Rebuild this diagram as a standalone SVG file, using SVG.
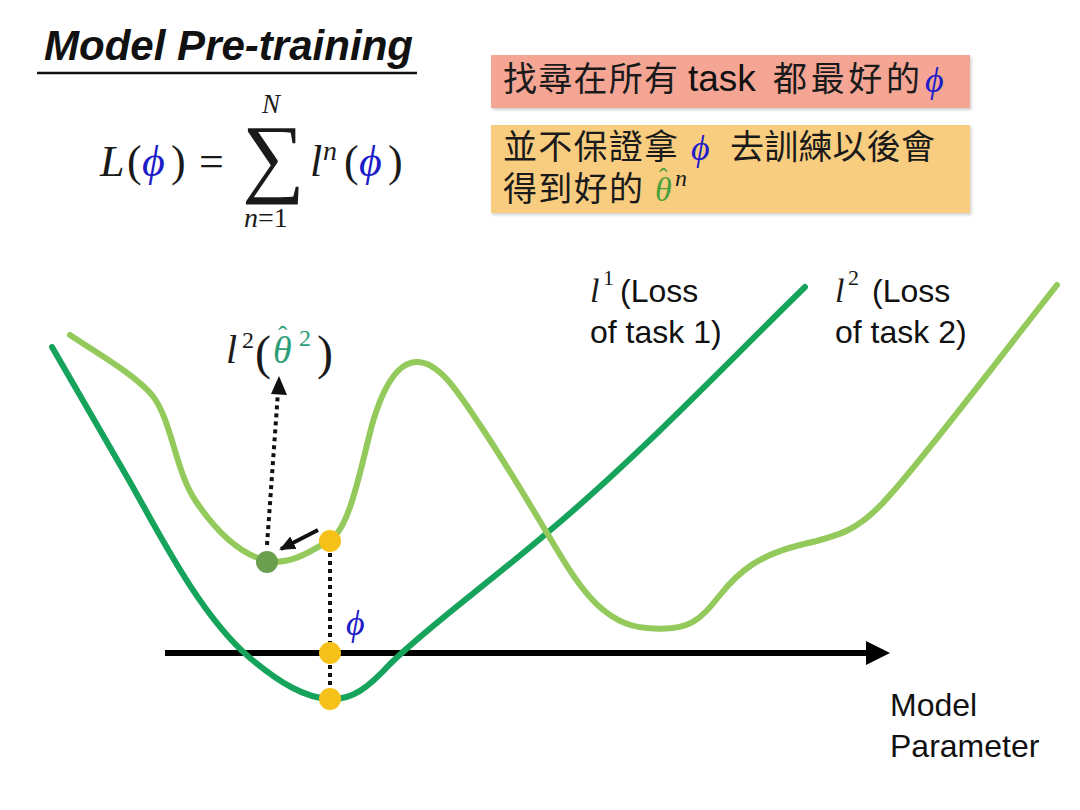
<svg xmlns="http://www.w3.org/2000/svg" width="1080" height="810" viewBox="0 0 1080 810">
<style>
.serif{font-family:"Liberation Serif","DejaVu Serif",serif;fill:#1a1a1a}
.it{font-style:italic}
.sans{font-family:"Liberation Sans",Arial,sans-serif;fill:#111}
.cjk{font-family:"Noto Sans CJK TC","Noto Sans CJK SC",sans-serif;fill:#1a1a1a;font-size:34px}
.blue{fill:#1c1cc8}
.teal{fill:#2e9e78}
.gr{fill:#4aa03a}
.curve{fill:none;stroke-width:6;stroke-linecap:round;stroke-linejoin:round}
.dot{stroke:#111;stroke-width:4;stroke-dasharray:4 4;fill:none}
</style>
<defs>
<marker id="ah" markerUnits="userSpaceOnUse" markerWidth="16" markerHeight="16" refX="14" refY="8" orient="auto">
<path d="M0,1 L16,8 L0,15 Z" fill="#111"/>
</marker>
<filter id="sh" x="-5%" y="-10%" width="110%" height="130%">
<feDropShadow dx="1.5" dy="2" stdDeviation="1.5" flood-color="#000" flood-opacity="0.18"/>
</filter>
</defs>
<rect width="1080" height="810" fill="#fff"/>

<g id="title">
<text x="44" y="60" class="sans" font-size="42" font-weight="bold" font-style="italic" textLength="369" lengthAdjust="spacingAndGlyphs">Model Pre-training</text>
<line x1="37" y1="73" x2="417" y2="73" stroke="#111" stroke-width="2.5"/>
</g>

<g id="formula">
<text x="100" y="176" class="serif it" font-size="44">L</text>
<text x="127" y="176" class="serif" font-size="44">(</text>
<text x="142" y="176" class="serif it blue" font-size="44">ϕ</text>
<text x="171" y="176" class="serif" font-size="44">)</text>
<text x="199" y="176" class="serif" font-size="44">=</text>
<text x="242" y="186" class="serif" font-size="88">∑</text>
<text x="262" y="113" class="serif it" font-size="27">N</text>
<text x="244" y="227" class="serif" font-size="28"><tspan font-style="italic">n</tspan>=1</text>
<text x="310" y="176" class="serif it" font-size="44">l</text>
<text x="323" y="160" class="serif it" font-size="28">n</text>
<text x="344" y="176" class="serif" font-size="44">(</text>
<text x="359" y="176" class="serif it blue" font-size="44">ϕ</text>
<text x="388" y="176" class="serif" font-size="44">)</text>
</g>

<g id="box1">
<rect x="491" y="55" width="479" height="53" fill="#f4a594" filter="url(#sh)"/>
<text y="91" class="cjk"><tspan x="503" textLength="175" lengthAdjust="spacing">找尋在所有</tspan></text>
<text x="688" y="91" class="sans" font-size="37">task</text>
<text y="91" class="cjk"><tspan x="773" textLength="147" lengthAdjust="spacing">都最好的</tspan></text>
<text x="925" y="92" class="serif it blue" font-size="36">ϕ</text>
</g>

<g id="box2">
<rect x="491" y="125" width="479" height="88" fill="#f9cd80" filter="url(#sh)"/>
<text y="159" class="cjk"><tspan x="503" textLength="175" lengthAdjust="spacing">並不保證拿</tspan></text>
<text x="691" y="160" class="serif it blue" font-size="36">ϕ</text>
<text y="159" class="cjk"><tspan x="730" textLength="205" lengthAdjust="spacing">去訓練以後會</tspan></text>
<text y="201" class="cjk"><tspan x="503" textLength="140" lengthAdjust="spacing">得到好的</tspan></text>
<text x="655" y="201" class="serif it gr" font-size="34">θ</text>
<text x="659" y="186" class="serif gr" font-size="26">ˆ</text>
<text x="675" y="186" class="serif it" font-size="24">n</text>
</g>

<g id="connectors">
<path id="axis" d="M165,653 L870,653" stroke="#000" stroke-width="6"/>
<polygon points="866,641 890,653 866,665" fill="#000"/>
<path id="l1" class="curve" stroke="#16a35c" d="M52,347 L130,482 C160,535 200,615 250,658 C280,683 305,698 330,699 C352,700 368,688 390,664 C430,625 480,590 547,533 C640,455 720,370 805,287"/>
<path id="l2" class="curve" stroke="#94c95b" d="M70,335 C100,355 135,375 152,395 C172,420 175,470 195,500 C215,530 240,555 268,561 C290,565 310,552 330,540 C350,528 360,470 372,425 C385,380 400,362 417,362 C440,362 460,395 480,425 C510,470 530,505 547,533 C575,580 600,625 647,628 C690,632 700,620 720,595 C740,570 760,555 800,545 C840,536 860,530 890,495 C930,450 990,370 1057,285"/>
<line class="dot" x1="330" y1="545" x2="330" y2="698"/>
<line class="dot" x1="267" y1="545" x2="278" y2="392"/>
<polygon points="271,394 279,376 287,395" fill="#111"/>
<line x1="318" y1="530" x2="281" y2="549" stroke="#111" stroke-width="4" marker-end="url(#ah)"/>
</g>

<g id="points">
<circle cx="267" cy="562" r="11" fill="#6a9f4e"/>
<circle cx="330" cy="541" r="11" fill="#f6c21a"/>
<circle cx="330" cy="653" r="11" fill="#f6c21a"/>
<circle cx="330" cy="699" r="11" fill="#f6c21a"/>
</g>

<g id="labels">
<text x="226" y="363" class="serif it" font-size="40">l</text>
<text x="242" y="348" class="serif" font-size="24">2</text>
<text x="255" y="369" class="serif" font-size="48">(</text>
<text x="273" y="363" class="serif it teal" font-size="38">θ</text>
<text x="278" y="345" class="serif teal" font-size="28">ˆ</text>
<text x="299" y="346" class="serif teal" font-size="24">2</text>
<text x="317" y="369" class="serif" font-size="48">)</text>
<text x="346" y="635" class="serif it blue" font-size="36">ϕ</text>
<text x="590" y="302" class="serif it" font-size="34">l</text>
<text x="603" y="285" class="serif" font-size="22">1</text>
<text x="620" y="302" class="sans" font-size="32">(Loss</text>
<text x="590" y="343" class="sans" font-size="32">of task 1)</text>
<text x="835" y="302" class="serif it" font-size="34">l</text>
<text x="848" y="285" class="serif" font-size="22">2</text>
<text x="872" y="302" class="sans" font-size="32">(Loss</text>
<text x="835" y="343" class="sans" font-size="32">of task 2)</text>
<text x="890" y="716" class="sans" font-size="32">Model</text>
<text x="890" y="757" class="sans" font-size="32">Parameter</text>
</g>
</svg>
